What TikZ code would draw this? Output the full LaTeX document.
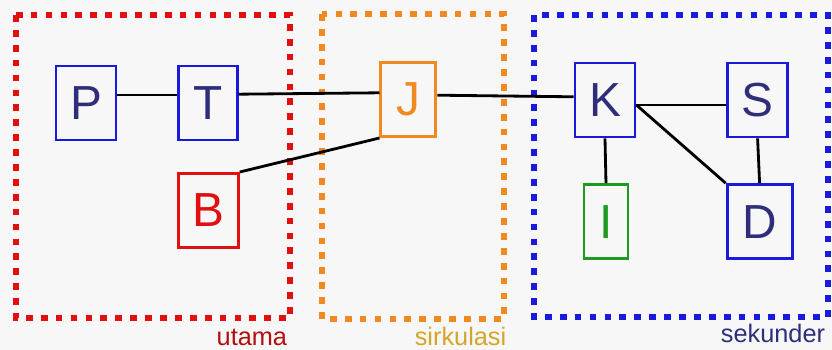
\documentclass[tikz,border=0pt]{standalone}
\usepackage{fontspec}
\setmainfont{Liberation Sans}

\definecolor{merah}{HTML}{E01010}
\definecolor{jingga}{HTML}{F08A20}
\definecolor{kuning}{HTML}{D4A52A}
\definecolor{biru}{HTML}{1A1ADC}
\definecolor{hijau}{HTML}{1E9A1E}
\definecolor{tinta}{HTML}{2E2E7A}

\tikzset{
    blok/.style={draw=#1, line width=2pt, minimum width=1.5cm, minimum height=1.85cm,
        font=\fontsize{34}{36}\selectfont, inner sep=0pt},
    bingkai/.style={line width=4.8pt, dash pattern=on 4.8pt off 5.8pt},
    kabel/.style={line width=2pt, black},
    label/.style={anchor=base east, font=\fontsize{18}{20}\selectfont}
}

\begin{document}
\begin{tikzpicture}
        \useasboundingbox[fill=black!3] (0, 0) rectangle (20.8, 8.75);

        % kelompok
        \draw[bingkai, merah] (0.4, 8.375) rectangle (7.25, 0.8);
        \draw[bingkai, jingga] (8.05, 8.4) rectangle (12.6, 0.775);
        \draw[bingkai, biru] (13.35, 8.375) rectangle (20.7, 0.825);
        \node[label, text=merah!80!black] (utama) at (7.3, 0.12) {utama};
        \node[label, text=kuning] (sirkulasi) at (12.78, 0.12) {sirkulasi};
        \node[label, text=tinta] (sekunder) at (20.75, 0.18) {sekunder};

        % blok
        \node[blok=biru, text=tinta] (P) at (2.15, 6.175) {P};
        \node[blok=biru, text=tinta, minimum width=1.475cm] (T) at (5.19, 6.175) {T};
        \node[blok=merah, text=merah] (B) at (5.21, 3.49) {B};
        \node[blok=jingga, text=jingga, minimum width=1.375cm] (J) at (10.21, 6.26) {J};
        \node[blok=biru, text=tinta] (K) at (15.125, 6.25) {K};
        \node[blok=biru, text=tinta] (S) at (18.94, 6.25) {S};
        \node[blok=hijau, text=hijau, minimum width=1.1cm] (I) at (15.15, 3.21) {I};
        \node[blok=biru, text=tinta, minimum width=1.625cm] (D) at (18.99, 3.21) {D};

        % sambungan
        \draw[kabel] ([yshift=0.2cm]P.east) -- ([yshift=0.2cm]T.west);
        \draw[kabel] ([yshift=0.22cm]T.east) -- ([yshift=0.17cm]J.west);
        \draw[kabel] (B.north east) -- (J.south west);
        \draw[kabel] ([yshift=0.11cm]J.east) -- ([yshift=0.08cm]K.west);
        \draw[kabel] ([yshift=-0.125cm]K.east) -- ([yshift=-0.125cm]S.west);
        \draw[kabel] ([yshift=-0.125cm]K.east) -- (D.north west);
        \draw[kabel] (K.south) -- (I.north);
        \draw[kabel] (S.south) -- (D.north);
    \end{tikzpicture}
\end{document}
